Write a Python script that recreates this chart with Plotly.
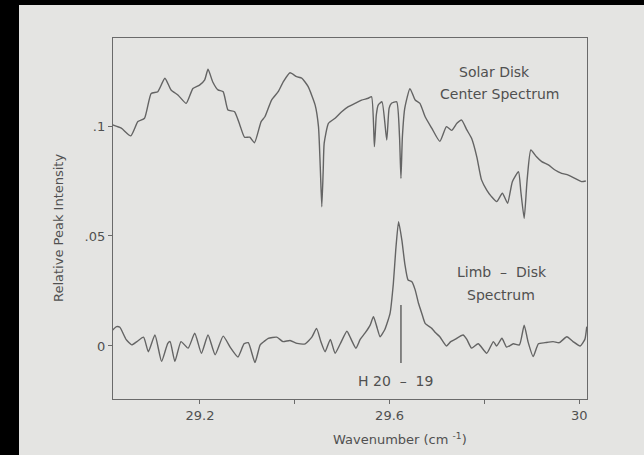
import plotly.graph_objects as go

# Solar disk center spectrum (wavenumber in cm^-1, relative peak intensity)
disk_wn = [29.016, 29.034, 29.054, 29.069, 29.083, 29.097, 29.111, 29.126, 29.139, 29.154,
           29.171, 29.185, 29.199, 29.210, 29.217, 29.227, 29.238, 29.249, 29.259, 29.273,
           29.284, 29.294, 29.305, 29.315, 29.329, 29.337, 29.351, 29.365, 29.376, 29.390,
           29.404, 29.415, 29.428, 29.443, 29.450, 29.454, 29.457, 29.460, 29.462, 29.471,
           29.485, 29.499, 29.513, 29.527, 29.541, 29.555, 29.562, 29.568, 29.572, 29.576,
           29.584, 29.594, 29.599, 29.604, 29.615, 29.621, 29.624, 29.627, 29.632, 29.643,
           29.654, 29.664, 29.675, 29.689, 29.706, 29.720, 29.731, 29.742, 29.752, 29.763,
           29.773, 29.784, 29.794, 29.805, 29.815, 29.826, 29.838, 29.849, 29.859, 29.872,
           29.877, 29.884, 29.890, 29.898, 29.910, 29.921, 29.935, 29.949, 29.963, 29.977,
           29.991, 30.005, 30.014]
disk_int = [0.1005, 0.0990, 0.0955, 0.1020, 0.1035, 0.1148, 0.1156, 0.1217, 0.1164, 0.1140,
            0.1103, 0.1170, 0.1186, 0.1210, 0.1258, 0.1200, 0.1164, 0.1156, 0.1073, 0.1065,
            0.1005, 0.0949, 0.0949, 0.0924, 0.1020, 0.1042, 0.1118, 0.1156, 0.1202, 0.1242,
            0.1224, 0.1217, 0.1180, 0.1095, 0.0997, 0.0800, 0.0633, 0.0800, 0.0921, 0.1012,
            0.1035, 0.1065, 0.1088, 0.1103, 0.1118, 0.1126, 0.1133, 0.0906, 0.1050, 0.1095,
            0.1110, 0.0936, 0.1080, 0.1103, 0.1110, 0.0950, 0.0762, 0.0950, 0.1080, 0.1170,
            0.1118, 0.1103, 0.1042, 0.0990, 0.0930, 0.0997, 0.0980, 0.1012, 0.1027, 0.0982,
            0.0944, 0.0860, 0.0755, 0.0709, 0.0679, 0.0656, 0.0694, 0.0649, 0.0747, 0.0792,
            0.0700, 0.0580, 0.0750, 0.0891, 0.0860, 0.0838, 0.0823, 0.0800, 0.0785, 0.0777,
            0.0762, 0.0747, 0.0750]

# Limb minus disk difference spectrum
limb_wn = [29.016, 29.024, 29.031, 29.044, 29.056, 29.067, 29.081, 29.091, 29.105, 29.119,
           29.132, 29.137, 29.147, 29.160, 29.175, 29.189, 29.203, 29.217, 29.232, 29.249,
           29.265, 29.280, 29.293, 29.302, 29.316, 29.327, 29.335, 29.344, 29.362, 29.375,
           29.390, 29.405, 29.422, 29.436, 29.446, 29.455, 29.464, 29.475, 29.485, 29.496,
           29.510, 29.519, 29.529, 29.538, 29.548, 29.559, 29.566, 29.574, 29.580, 29.590,
           29.601, 29.608, 29.613, 29.619, 29.626, 29.632, 29.639, 29.647, 29.654, 29.661,
           29.668, 29.675, 29.689, 29.697, 29.706, 29.720, 29.729, 29.738, 29.755, 29.763,
           29.773, 29.787, 29.805, 29.819, 29.826, 29.837, 29.847, 29.861, 29.874, 29.884,
           29.892, 29.903, 29.914, 29.928, 29.945, 29.958, 29.974, 29.987, 30.002, 30.012,
           30.016]
limb_int = [0.0073, 0.0088, 0.0085, 0.0030, 0.0005, 0.0020, 0.0040, -0.0026, 0.0050, -0.0070,
            0.0012, 0.0020, -0.0070, 0.0020, -0.0010, 0.0058, -0.0033, 0.0050, -0.0040, 0.0045,
            -0.0010, -0.0050, 0.0010, 0.0015, -0.0075, 0.0005, 0.0020, 0.0035, 0.0040, 0.0020,
            0.0025, 0.0012, 0.0010, 0.0040, 0.0080, 0.0020, -0.0026, 0.0030, -0.0033, 0.0010,
            0.0067, 0.0030, -0.0010, 0.0030, 0.0058, 0.0095, 0.0133, 0.0080, 0.0042, 0.0075,
            0.0148, 0.0285, 0.0436, 0.0565, 0.0480, 0.0376, 0.0300, 0.0292, 0.0255, 0.0194,
            0.0148, 0.0103, 0.0080, 0.0060, 0.0042, 0.0000, 0.0020, 0.0030, 0.0050, 0.0030,
            -0.0010, 0.0010, -0.0033, 0.0020, 0.0000, 0.0035, -0.0005, 0.0010, 0.0005, 0.0095,
            0.0020, -0.0048, 0.0010, 0.0015, 0.0020, 0.0015, 0.0042, 0.0020, 0.0000, 0.0030,
            0.0088]

# H 20-19 line position marker
marker_wn = [29.624, 29.624]
marker_int = [-0.0077, 0.0186]

x_ticks = [29.2, 29.6, 30.0]
x_ticklabels = ["29.2", "29.6", "30"]
x_minor_ticks = [29.4, 29.8]
y_ticks = [0, 0.05, 0.1]
y_ticklabels = ["0", ".05", ".1"]

INK = "#646464"
TEXT = "#505050"
PAPER = "#e4e4e2"
FONT = "DejaVu Sans"

W, H = 644, 455
ML, MR, MT, MB = 113, 57, 38, 56
PW, PH = W - ML - MR, H - MT - MB


def px_to_paper(px, py):
    return (px - ML) / PW, (H - MB - py) / PH


line_style = dict(color=INK, width=1.4, shape="spline", smoothing=0.5)

fig = go.Figure()
fig.add_trace(go.Scatter(x=disk_wn, y=disk_int, mode="lines",
                         line=line_style, hoverinfo="skip"))
fig.add_trace(go.Scatter(x=limb_wn, y=limb_int, mode="lines",
                         line=line_style, hoverinfo="skip"))
fig.add_trace(go.Scatter(x=marker_wn, y=marker_int, mode="lines",
                         line=dict(color=INK, width=1.5), hoverinfo="skip"))

# paper sheet over a dark surround (left and top edges)
x0, y1 = px_to_paper(19, 5)
x1, y0 = px_to_paper(W, H)
fig.add_shape(type="rect", xref="paper", yref="paper", x0=x0, x1=x1, y0=y0, y1=y1,
              fillcolor=PAPER, line=dict(width=0), layer="below")

ann_font = dict(family=FONT, size=14, color=TEXT)
for x, y, txt in [(29.822, 0.1245, "Solar Disk"),
                  (29.832, 0.1145, "Center Spectrum"),
                  (29.838, 0.0336, "Limb  \u2013  Disk"),
                  (29.834, 0.0232, "Spectrum"),
                  (29.612, -0.0159, "H 20  \u2013  19")]:
    fig.add_annotation(x=x, y=y, text=txt, showarrow=False, font=ann_font,
                       xanchor="center", yanchor="middle")

ax, ay = px_to_paper(400, 439)
fig.add_annotation(xref="paper", yref="paper", x=ax, y=ay,
                   xanchor="center", yanchor="middle",
                   text="Wavenumber (cm <sup>-1</sup>)", showarrow=False,
                   font=dict(family=FONT, size=13, color=TEXT))
ax, ay = px_to_paper(58, 228)
fig.add_annotation(xref="paper", yref="paper", x=ax, y=ay, textangle=-90,
                   xanchor="center", yanchor="middle",
                   text="Relative Peak Intensity", showarrow=False,
                   font=dict(family=FONT, size=13, color=TEXT))

axis_common = dict(showline=True, linecolor="#6a6a6a", linewidth=1.4, mirror=True,
                   showgrid=False, zeroline=False, ticks="outside", ticklen=4,
                   tickcolor="#6a6a6a", tickwidth=1.3,
                   tickfont=dict(family=FONT, size=13, color=TEXT))

fig.update_xaxes(range=[29.0165, 30.0165], tickvals=x_ticks, ticktext=x_ticklabels,
                 minor=dict(tickvals=x_minor_ticks, ticks="outside", ticklen=4,
                            tickcolor="#6a6a6a", tickwidth=1.3),
                 **axis_common)
fig.update_yaxes(range=[-0.0241, 0.14], tickvals=y_ticks, ticktext=y_ticklabels, **axis_common)

fig.update_layout(width=W, height=H, margin=dict(l=ML, r=MR, t=MT, b=MB),
                  paper_bgcolor="black", plot_bgcolor="rgba(0,0,0,0)",
                  showlegend=False)

fig.write_html("out.html")
